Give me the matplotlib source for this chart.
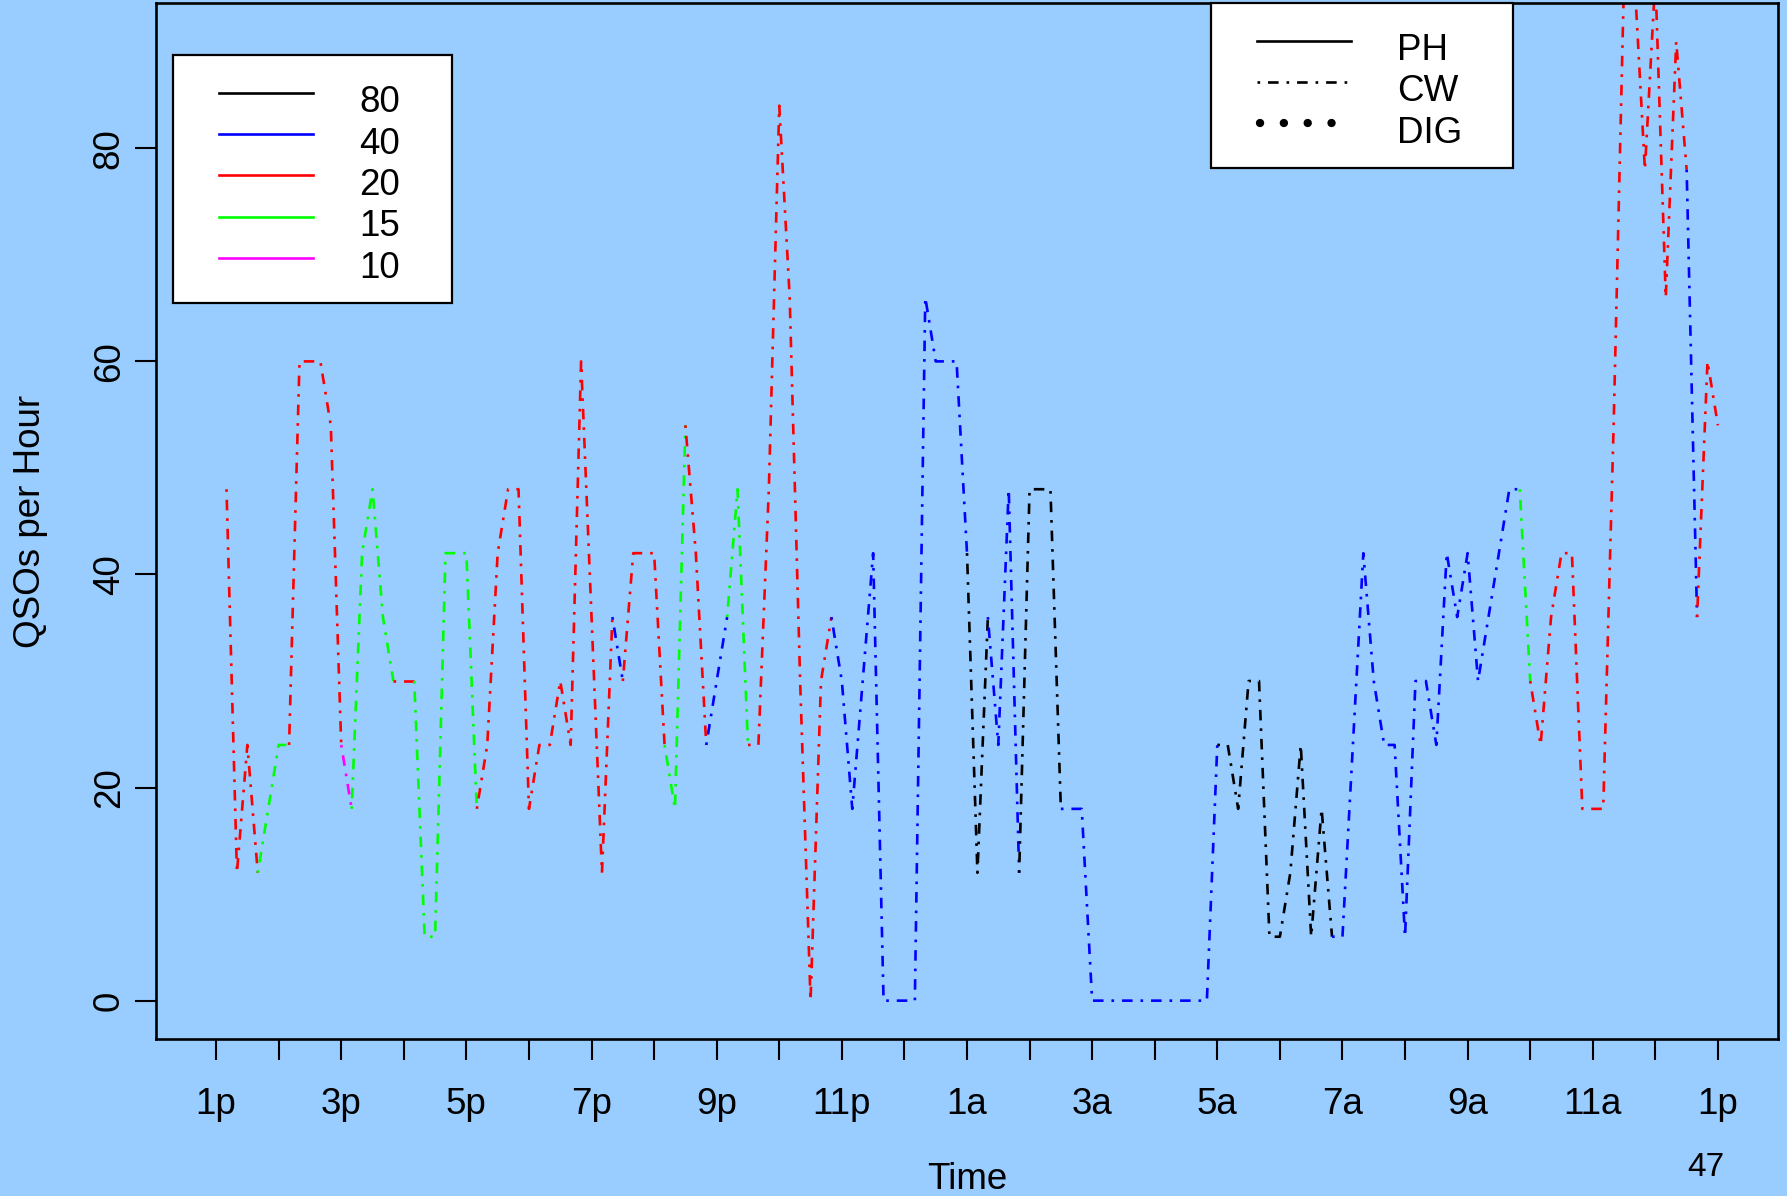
import numpy as np
import matplotlib
matplotlib.use("Agg")
import matplotlib.pyplot as plt
from matplotlib.lines import Line2D
from matplotlib.patches import Rectangle
from matplotlib.transforms import IdentityTransform

plt.rcParams['font.family'] = ['Liberation Sans', 'DejaVu Sans']

# QSOs per hour, one reading every 10 minutes starting 1:10p
rate = [48, 12, 24, 12, 18, 24, 24, 60, 60, 60,
        54, 24, 18, 42, 48, 36, 30, 30, 30, 6,
        6, 42, 42, 42, 18, 24, 42, 48, 48, 18,
        24, 24, 30, 24, 60, 36, 12, 36, 30, 42,
        42, 42, 24, 18, 54, 42, 24, 30, 36, 48,
        24, 24, 48, 84, 66, 30, 0, 30, 36, 30,
        18, 30, 42, 0, 0, 0, 0, 66, 60, 60,
        60, 42, 12, 36, 24, 48, 12, 48, 48, 48,
        18, 18, 18, 0, 0, 0, 0, 0, 0, 0,
        0, 0, 0, 0, 0, 24, 24, 18, 30, 30,
        6, 6, 12, 24, 6, 18, 6, 6, 24, 42,
        30, 24, 24, 6, 30, 30, 24, 42, 36, 42,
        30, 36, 42, 48, 48, 30, 24, 36, 42, 42,
        18, 18, 18, 54, 96, 96, 78, 96, 66, 90,
        78, 36, 60, 54]

# band worked in the interval ending at each reading, as (band, count) runs
band_runs = [('20', 4), ('15', 3), ('20', 5), ('10', 1), ('15', 4), ('20', 2),
             ('15', 6), ('20', 13), ('40', 1), ('20', 4), ('15', 2), ('20', 2),
             ('40', 2), ('15', 2), ('20', 8), ('40', 13), ('80', 2), ('40', 3),
             ('80', 4), ('40', 15), ('80', 11), ('40', 18), ('15', 1), ('20', 15),
             ('40', 1), ('20', 2)]

band_names = ['80', '40', '20', '15', '10']
band_color = {'80': 'black', '40': '#0000FF', '20': '#FF0000',
              '15': '#00FF00', '10': '#FF00FF'}
mode_names = ['PH', 'CW', 'DIG']

hour_ticks = list(range(0, 25))
hour_names = ['1p', '3p', '5p', '7p', '9p', '11p', '1a', '3a', '5a', '7a', '9a', '11a', '1p']
page_no = '47'

BG = '#99CCFF'
FS = 26.5
CW = (0, (1, 3, 4, 3))

fig = plt.figure(figsize=(17.87, 11.96), dpi=100, facecolor=BG)
ax = fig.add_axes([156 / 1787, 1 - 1039 / 1196, 1622 / 1787, 1035.6 / 1196])
ax.set_facecolor(BG)

hours = np.arange(1, len(rate) + 1) / 6.0
rate = np.array(rate)
i = 0
for b, n in band_runs:
    lo = max(i - 1, 0)
    ax.plot(hours[lo:i + n], rate[lo:i + n], color=band_color[b], lw=1.9,
            linestyle=CW)
    i += n

ax.set_xlim(-0.96, 24.96)
ax.set_ylim(-3.6, 93.6)

labels = []
for h in hour_ticks:
    labels.append(hour_names[h // 2] if h % 2 == 0 else '')
ax.set_xticks(hour_ticks)
ax.set_xticklabels(labels)
ax.set_yticks([0, 20, 40, 60, 80])
ax.tick_params(axis='both', direction='out', length=14.9, width=1.5,
               labelsize=FS, colors='black')
ax.tick_params(axis='x', pad=19.3)
ax.tick_params(axis='y', pad=6.2, labelrotation=90)
for lab in ax.get_yticklabels():
    lab.set_va('center')
for s in ax.spines.values():
    s.set_linewidth(1.9)

ax.set_xlabel('Time', fontsize=FS)
ax.xaxis.set_label_coords(0.5, -0.1183)
ax.set_ylabel('QSOs per Hour', fontsize=FS)
ax.yaxis.set_label_coords((48 - 156) / 1622, 0.5)

fig.text(1706 / 1787, 1 - 1167 / 1196, page_no, fontsize=24,
         ha='center', va='center')

# legends drawn in output pixels (y measured from the top)
T = IdentityTransform()
H = 1196


def key_box(x0, y0, x1, y1):
    fig.add_artist(Rectangle((x0, H - y1), x1 - x0, y1 - y0, transform=T,
                             facecolor='white', edgecolor='black', lw=1.6, zorder=5))


def key_row(x0, x1, xt, y, text, **kw):
    fig.add_artist(Line2D([x0, x1], [H - y, H - y], transform=T, zorder=6, **kw))
    fig.text(xt, H - y - 10, text, transform=T, fontsize=FS, ha='left',
             va='center', zorder=7)


key_box(173, 55, 452, 303)
for j, b in enumerate(band_names):
    key_row(219, 313, 359, 92.7 + 41.35 * j, b, color=band_color[b], lw=1.9)

key_box(1211, 3, 1513, 168)
key_row(1257, 1351, 1397, 40.7, mode_names[0], color='black', lw=1.9)
key_row(1257, 1351, 1397, 81.7, mode_names[1], color='black', lw=1.9, linestyle=CW)
key_row(1260, 1351, 1397, 123.3, mode_names[2], color='black', lw=6.0,
        linestyle=(0, (0.01, 2.85)), dash_capstyle='round')

fig.savefig('out.png', dpi=100, facecolor=BG)
